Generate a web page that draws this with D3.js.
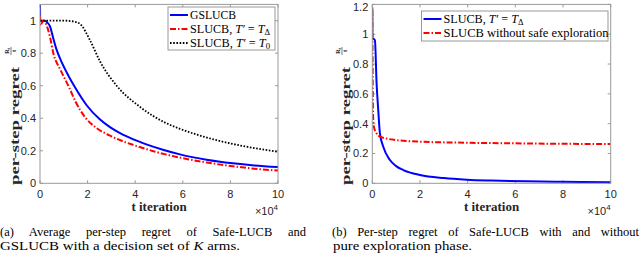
<!DOCTYPE html>
<html>
<head>
<meta charset="utf-8">
<script src="https://cdn.jsdelivr.net/npm/d3@7"></script>
<style>
  body { margin: 0; background: #fff; }
  svg { display: block; }
  .tick-label { font-family: "Liberation Sans", Arial, sans-serif; font-size: 11px; fill: #262626; }
  .serif { font-family: "Liberation Serif", "DejaVu Serif", serif; }
</style>
</head>
<body>
<div id="chart"></div>
<script>
// panel (a)
const gsT = [0, 0.01, 0.2, 0.3, 0.42, 0.56, 0.7, 0.91, 1.2, 1.47, 1.96, 2.5, 2.94, 3.4, 3.92, 4.5, 5.2, 5.88, 7, 8.1, 9, 10]
const gsV = [1.1, 1.0, 1.0, 0.99, 0.965, 0.89, 0.82, 0.745, 0.66, 0.59, 0.48, 0.395, 0.345, 0.305, 0.27, 0.238, 0.205, 0.178, 0.145, 0.123, 0.11, 0.10]
const tdT = [0, 0.005, 0.14, 0.42, 0.56, 0.85, 1.19, 1.5, 1.9, 2.4, 2.94, 3.4, 3.92, 4.8, 5.88, 7, 8.1, 9, 10]
const tdV = [1.03, 0.97, 1.0, 0.9, 0.8, 0.7, 0.6, 0.5, 0.405, 0.337, 0.293, 0.263, 0.236, 0.196, 0.158, 0.128, 0.105, 0.09, 0.078]
const t0T = [0, 0.5, 1.0, 1.4, 1.68, 2.1, 2.52, 3.22, 4.2, 5.3, 5.88, 7.42, 8.5, 10]
const t0V = [1.0, 1.0, 1.0, 0.995, 0.98, 0.88, 0.75, 0.6, 0.47, 0.37, 0.335, 0.265, 0.23, 0.194]

// panel (b)
const bBlueT = [0, 0.005, 0.04, 0.11, 0.18, 0.25, 0.32, 0.46, 0.74, 1.0, 1.3, 2.0, 3.0, 3.96, 5, 6.5, 8, 10]
const bBlueV = [1.18, 0.97, 0.97, 0.96, 0.67, 0.49, 0.335, 0.245, 0.156, 0.115, 0.089, 0.056, 0.035, 0.024, 0.018, 0.013, 0.01, 0.007]
const bRedT = [0, 0.01, 0.02, 0.04, 0.08, 0.18, 0.3, 0.6, 1, 2, 4, 6, 8, 10]
const bRedV = [1.16, 0.9, 0.6, 0.42, 0.37, 0.335, 0.315, 0.30, 0.29, 0.279, 0.272, 0.268, 0.265, 0.263]

const xTicks = [0, 2, 4, 6, 8, 10]
const yTicksA = [0, 0.2, 0.4, 0.6, 0.8, 1]
const yTicksB = [0, 0.2, 0.4, 0.6, 0.8, 1, 1.2]

const zip = (ts, vs) => ts.map((t, i) => ({t: t, v: vs[i]}))

const svg = d3.select('#chart').append('svg')
    .attr('width', 640)
    .attr('height', 257)

const styles = {
    blue: {stroke: '#0000ff', dash: null, width: 2},
    red: {stroke: '#ff0000', dash: '6,2,1.5,2', width: 2},
    black: {stroke: '#000', dash: '1.6,1.6', width: 1.8}
}

const drawPanel = (p) => {
    const x = d3.scaleLinear().domain([0, 10]).range([p.x0, p.x1])
    const y = d3.scaleLinear().domain([0, p.ymax]).range([183.3, 4.4])
    const g = svg.append('g')

    // ticks (inside, mirrored)
    xTicks.forEach((t) => {
        g.append('line').attr('x1', x(t)).attr('x2', x(t)).attr('y1', y(0)).attr('y2', y(0) - 3).attr('stroke', '#999')
        g.append('line').attr('x1', x(t)).attr('x2', x(t)).attr('y1', y(p.ymax)).attr('y2', y(p.ymax) + 3).attr('stroke', '#999')
        g.append('text').attr('class', 'tick-label').attr('x', x(t)).attr('y', 198)
            .attr('text-anchor', 'middle').text(t)
    })
    p.yTicks.forEach((v) => {
        g.append('line').attr('x1', x(0)).attr('x2', x(0) + 3).attr('y1', y(v)).attr('y2', y(v)).attr('stroke', '#999')
        g.append('line').attr('x1', x(10)).attr('x2', x(10) - 3).attr('y1', y(v)).attr('y2', y(v)).attr('stroke', '#999')
        g.append('text').attr('class', 'tick-label').attr('x', x(0) - 4).attr('y', Math.max(y(v) + 4, 10.5))
            .attr('text-anchor', 'end').text(v)
    })

    const line = d3.line().x((d) => x(d.t)).y((d) => y(d.v)).curve(d3.curveMonotoneX)
    const clip = 'clip-' + p.id
    g.append('clipPath').attr('id', clip).append('rect')
        .attr('x', p.x0).attr('y', y(p.ymax)).attr('width', p.x1 - p.x0).attr('height', y(0) - y(p.ymax))

    p.series.forEach((s) => {
        const st = styles[s.style]
        g.append('path').datum(zip(s.t, s.v))
            .attr('d', line)
            .attr('fill', 'none')
            .attr('stroke', st.stroke)
            .attr('stroke-width', st.width)
            .attr('stroke-dasharray', st.dash)
            .attr('clip-path', `url(#${clip})`)
    })

    g.append('rect').attr('x', p.x0).attr('y', y(p.ymax)).attr('width', p.x1 - p.x0).attr('height', y(0) - y(p.ymax))
        .attr('fill', 'none').attr('stroke', '#999')

    // legend
    const L = p.legend
    g.append('rect').attr('x', L.x).attr('y', L.y).attr('width', L.w).attr('height', L.h)
        .attr('fill', '#fff').attr('stroke', '#999')
    p.series.forEach((s, i) => {
        const st = styles[s.style]
        const ly = L.y + 8 + i * 14
        g.append('line').attr('x1', L.x + 2).attr('x2', L.x + 20).attr('y1', ly).attr('y2', ly)
            .attr('stroke', st.stroke).attr('stroke-width', st.width).attr('stroke-dasharray', st.dash)
        const tx = g.append('text').attr('class', 'serif').attr('x', L.x + 22).attr('y', ly + 4)
            .attr('font-size', 12).attr('fill', '#000')
            .attr('textLength', s.len).attr('lengthAdjust', 'spacingAndGlyphs')
        s.label.forEach((part) => {
            const ts = tx.append('tspan').text(part.text)
            if (part.italic) ts.attr('font-style', 'italic')
            if (part.sub) ts.attr('font-size', 8.5).attr('dy', 2)
        })
    })

    // axis labels
    g.append('text').attr('class', 'serif').attr('x', (p.x0 + p.x1) / 2).attr('y', 211)
        .attr('text-anchor', 'middle').attr('font-size', 13).attr('font-weight', 'bold').attr('fill', '#262626')
        .text('t iteration')
    const ex = g.append('text').attr('class', 'tick-label').attr('x', p.x1).attr('y', 215).attr('text-anchor', 'end')
    ex.append('tspan').text('\u00d710')
    ex.append('tspan').attr('font-size', 8).attr('dy', -5).text('4')

    const yl = g.append('g').attr('transform', `translate(${p.labelX},0) rotate(-90)`)
    yl.append('text').attr('class', 'serif').attr('x', -185).attr('y', 0)
        .attr('font-size', 12).attr('font-weight', 'bold').attr('fill', '#262626')
        .attr('textLength', 118).attr('lengthAdjust', 'spacingAndGlyphs')
        .text('per-step regret')
    yl.append('text').attr('class', 'serif').attr('x', -51).attr('y', -10)
        .attr('text-anchor', 'middle').attr('font-size', 6.5).attr('font-weight', 'bold').attr('fill', '#262626')
        .text('R').append('tspan').attr('font-size', 4.5).attr('dy', 1).text('t')
    yl.append('line').attr('x1', -55).attr('x2', -47).attr('y1', -8).attr('y2', -8)
        .attr('stroke', '#262626').attr('stroke-width', 0.6)
    yl.append('text').attr('class', 'serif').attr('x', -51).attr('y', -3.5)
        .attr('text-anchor', 'middle').attr('font-size', 6.5).attr('font-weight', 'bold').attr('fill', '#262626')
        .text('t')

    // caption
    p.caption.forEach((c, i) => {
        const t = g.append('text').attr('class', 'serif').attr('x', c.x).attr('y', 236 + i * 14)
            .attr('font-size', 12.5).attr('fill', '#000')
        c.parts.forEach((part) => {
            const ts = t.append('tspan').text(part.text)
            if (part.italic) ts.attr('font-style', 'italic')
        })
        const natural = t.node().getComputedTextLength()
        if (c.justify) {
            const spaces = c.parts.map((q) => q.text).join('').split(' ').length - 1
            t.attr('word-spacing', (c.len - natural) / spaces)
        } else if (c.len) {
            t.attr('textLength', c.len).attr('lengthAdjust', 'spacingAndGlyphs')
        }
    })
}

const sub = (s) => ({text: s, sub: true})
const it = (s) => ({text: s, italic: true})
const tx = (s) => ({text: s})

drawPanel({
    id: 'a', x0: 40, x1: 278, ymax: 1.1, yTicks: yTicksA, labelX: 19,
    series: [
        {t: gsT, v: gsV, style: 'blue', len: 46, label: [tx('GSLUCB')]},
        {t: tdT, v: tdV, style: 'red', len: 80, label: [tx('SLUCB, '), it('T\u2032'), tx(' = '), it('T'), sub('\u0394')]},
        {t: t0T, v: t0V, style: 'black', len: 80, label: [tx('SLUCB, '), it('T\u2032'), tx(' = '), it('T'), sub('0')]}
    ],
    legend: {x: 168, y: 7, w: 107, h: 43},
    caption: [
        {x: 0, len: 306, justify: true, parts: [tx('(a) Average per-step regret of Safe-LUCB and')]},
        {x: 0, len: 240, parts: [tx('GSLUCB with a decision set of '), it('K'), tx(' arms.')]}
    ]
})

drawPanel({
    id: 'b', x0: 372.3, x1: 610.7, ymax: 1.2, yTicks: yTicksB, labelX: 350,
    series: [
        {t: bBlueT, v: bBlueV, style: 'blue', len: 80, label: [tx('SLUCB, '), it('T\u2032'), tx(' = '), it('T'), sub('\u0394')]},
        {t: bRedT, v: bRedV, style: 'red', len: 165, label: [tx('SLUCB without safe exploration')]}
    ],
    legend: {x: 421.5, y: 11, w: 186.5, h: 30},
    caption: [
        {x: 332, len: 307, justify: true, parts: [tx('(b) Per-step regret of Safe-LUCB with and without')]},
        {x: 333, len: 139, parts: [tx('pure exploration phase.')]}
    ]
})
</script>
</body>
</html>
